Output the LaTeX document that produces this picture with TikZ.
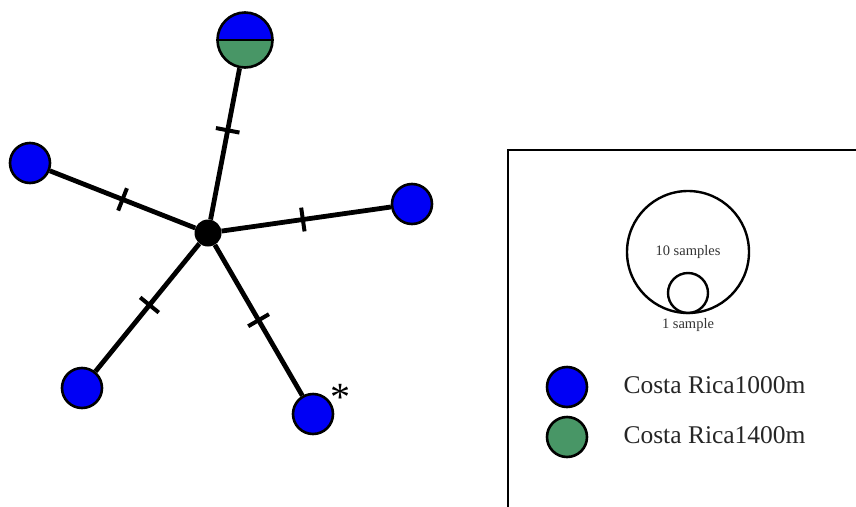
\documentclass[tikz,border=0pt]{standalone}
\usepackage{fontspec}
\setmainfont{Liberation Serif}
\begin{document}
\begin{tikzpicture}[x=1pt,y=-1pt,
  hap/.style={circle, draw=black, line width=2.6pt, inner sep=0pt, minimum size=#1},
  hap/.default=40pt,
  blueh/.style={hap, fill=hapblue},
  greenh/.style={hap, fill=hapgreen},
  hub/.style={circle, fill=black, inner sep=0pt, minimum size=27pt},
  edge/.style={line width=4.8pt},
  tick/.style={draw, line width=4pt, minimum width=0pt, minimum height=24pt, inner sep=0pt, sloped},
  legtext/.style={anchor=west, font=\fontsize{25.5}{28}\selectfont, text=black!85},
  smalltext/.style={font=\fontsize{14.5}{16}\selectfont, text=black!80}]
\definecolor{hapblue}{RGB}{0,0,245}
\definecolor{hapgreen}{RGB}{72,150,102}
\useasboundingbox (0,0) rectangle (856,506);

% haplotype network
\node[hub] (c) at (208,233) {};
\node[hap=55pt, fill=hapgreen,
  path picture={\fill[hapblue] (path picture bounding box.north west) rectangle (path picture bounding box.east);}] (top) at (245,40) {};
\draw[line width=2.4pt] (top.west) -- (top.east);
\node[blueh] (left) at (30,163) {};
\node[blueh] (right) at (412,204) {};
\node[blueh] (bl) at (82,388) {};
\node[blueh] (br) at (313,414) {};
\node[font=\fontsize{40}{40}\selectfont] (star) at (340,397) {*};

\draw[edge] (c) -- node[tick, pos=0.59] {} (top);
\draw[edge] (c) -- node[tick, pos=0.50] {} (left);
\draw[edge] (c) -- node[tick, pos=0.48] {} (right);
\draw[edge] (c) -- node[tick, pos=0.48] {} (bl);
\draw[edge] (c) -- node[tick, pos=0.50] {} (br);

% legend
\draw[line width=2.8pt] (870,150) -- (508,150) -- (508,520);
\node[circle, draw, line width=2.4pt, minimum size=122pt, inner sep=0pt] (big) at (688,252) {};
\node[circle, draw, line width=2.4pt, minimum size=40pt, inner sep=0pt] (small) at (688,293) {};
\node[smalltext] (ten) at (688,252) {10 samples};
\node[smalltext] (one) at (688,325) {1 sample};
\node[blueh] (lb) at (567,387) {};
\node[greenh] (lg) at (567,437) {};
\node[legtext] (tb) at (620,385) {Costa Rica1000m};
\node[legtext] (tg) at (620,435) {Costa Rica1400m};
\end{tikzpicture}
\end{document}
